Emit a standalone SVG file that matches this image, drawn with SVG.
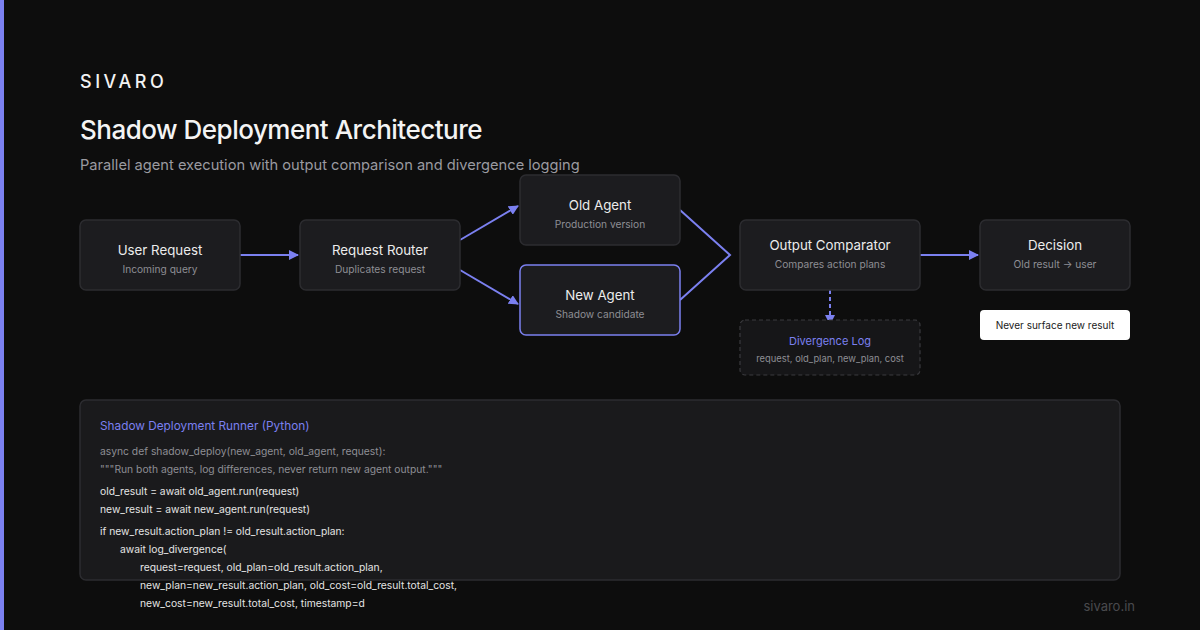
<svg xmlns="http://www.w3.org/2000/svg" width="1200" height="630" viewBox="0 0 1200 630">
<defs>
<style>
.box{fill:#1c1c1f;stroke:#2c2c30;stroke-width:1.5}
.t{font-family:Inter,"Liberation Sans",sans-serif;font-size:13.3px;fill:#ececec;text-anchor:middle}
.s{font-family:Inter,"Liberation Sans",sans-serif;font-size:10.2px;fill:#8e8e94;text-anchor:middle}
.c{font-family:Inter,"Liberation Sans",sans-serif;font-size:10.3px;fill:#e4e4e4}
.cg{font-family:Inter,"Liberation Sans",sans-serif;font-size:10.3px;fill:#8e8e94}
.ln{stroke:#7b80f0;stroke-width:2;fill:none}
</style>
<marker id="ah" viewBox="0 0 10 10" refX="9" refY="5" markerWidth="10" markerHeight="10" markerUnits="userSpaceOnUse" orient="auto">
<path d="M0,0 L10,5 L0,10 z" fill="#7b80f0"/>
</marker>
</defs>
<rect width="1200" height="630" fill="#0d0d0d"/>
<rect x="0" y="0" width="4" height="630" fill="#7b80f0"/>
<text x="80" y="88" font-family="Inter,'Liberation Sans',sans-serif" font-size="18" font-weight="500" letter-spacing="3.5" fill="#f2f2f2">SIVARO</text>
<text x="80" y="139" font-family="Inter,'Liberation Sans',sans-serif" font-size="26" font-weight="500" letter-spacing="-0.5" fill="#f4f4f4">Shadow Deployment Architecture</text>
<text x="80" y="170" font-family="Inter,'Liberation Sans',sans-serif" font-size="14.65" fill="#9a9aa0">Parallel agent execution with output comparison and divergence logging</text>

<g id="connectors">
<line class="ln" x1="240" y1="255" x2="298" y2="255" marker-end="url(#ah)"/>
<line class="ln" x1="460" y1="240" x2="518" y2="206" marker-end="url(#ah)"/>
<line class="ln" x1="460" y1="270" x2="518" y2="304" marker-end="url(#ah)"/>
<polyline class="ln" points="680,210 730,255 680,300"/>
<line class="ln" x1="920" y1="255" x2="978" y2="255" marker-end="url(#ah)"/>
<line class="ln" x1="830" y1="290" x2="830" y2="324" stroke-dasharray="4,3" marker-end="url(#ah)"/>
</g>

<g id="user-request">
<rect class="box" x="80" y="220" width="160" height="70" rx="6"/>
<text class="t" x="160" y="255">User Request</text>
<text class="s" x="160" y="273">Incoming query</text>
</g>
<g id="request-router">
<rect class="box" x="300" y="220" width="160" height="70" rx="6"/>
<text class="t" x="380" y="255">Request Router</text>
<text class="s" x="380" y="273">Duplicates request</text>
</g>
<g id="old-agent">
<rect class="box" x="520" y="175" width="160" height="70" rx="6"/>
<text class="t" x="600" y="210">Old Agent</text>
<text class="s" x="600" y="228">Production version</text>
</g>
<g id="new-agent">
<rect class="box" x="520" y="265" width="160" height="70" rx="6" style="stroke:#7b80f0"/>
<text class="t" x="600" y="300">New Agent</text>
<text class="s" x="600" y="318">Shadow candidate</text>
</g>
<g id="output-comparator">
<rect class="box" x="740" y="220" width="180" height="70" rx="6"/>
<text class="t" x="830" y="250">Output Comparator</text>
<text class="s" x="830" y="268">Compares action plans</text>
</g>
<g id="decision">
<rect class="box" x="980" y="220" width="150" height="70" rx="6"/>
<text class="t" x="1055" y="250">Decision</text>
<text class="s" x="1055" y="268">Old result → user</text>
</g>
<g id="divergence-log">
<rect x="740" y="320" width="180" height="55" rx="5" fill="#161618" stroke="#3a3a3e" stroke-width="1.2" stroke-dasharray="4,3"/>
<text class="t" x="830" y="345" style="font-size:11px;fill:#7b80f0">Divergence Log</text>
<text class="s" x="830" y="362" style="font-size:9.4px">request, old_plan, new_plan, cost</text>
</g>
<g id="never-surface">
<rect x="980" y="310" width="150" height="30" rx="4" fill="#ffffff"/>
<text class="s" x="1055" y="329" style="fill:#1a1a1a;font-size:10px">Never surface new result</text>
</g>

<g id="code-box">
<rect x="80" y="400" width="1040" height="180" rx="6" fill="#1a1a1c" stroke="#2c2c30" stroke-width="1.5"/>
<text x="100" y="430" font-family="Inter,'Liberation Sans',sans-serif" font-size="11.8" fill="#7b80f0">Shadow Deployment Runner (Python)</text>
<text class="cg" x="100" y="455">async def shadow_deploy(new_agent, old_agent, request):</text>
<text class="cg" x="100" y="473">"""Run both agents, log differences, never return new agent output."""</text>
<text class="c" x="100" y="495">old_result = await old_agent.run(request)</text>
<text class="c" x="100" y="513">new_result = await new_agent.run(request)</text>
<text class="c" x="100" y="535">if new_result.action_plan != old_result.action_plan:</text>
<text class="c" x="120" y="553">await log_divergence(</text>
<text class="c" x="140" y="571">request=request, old_plan=old_result.action_plan,</text>
<text class="c" x="140" y="589">new_plan=new_result.action_plan, old_cost=old_result.total_cost,</text>
<text class="c" x="140" y="607">new_cost=new_result.total_cost, timestamp=d</text>
</g>
<text x="1135" y="611" font-family="Inter,'Liberation Sans',sans-serif" font-size="13" fill="#4a4a4e" text-anchor="end">sivaro.in</text>
</svg>
